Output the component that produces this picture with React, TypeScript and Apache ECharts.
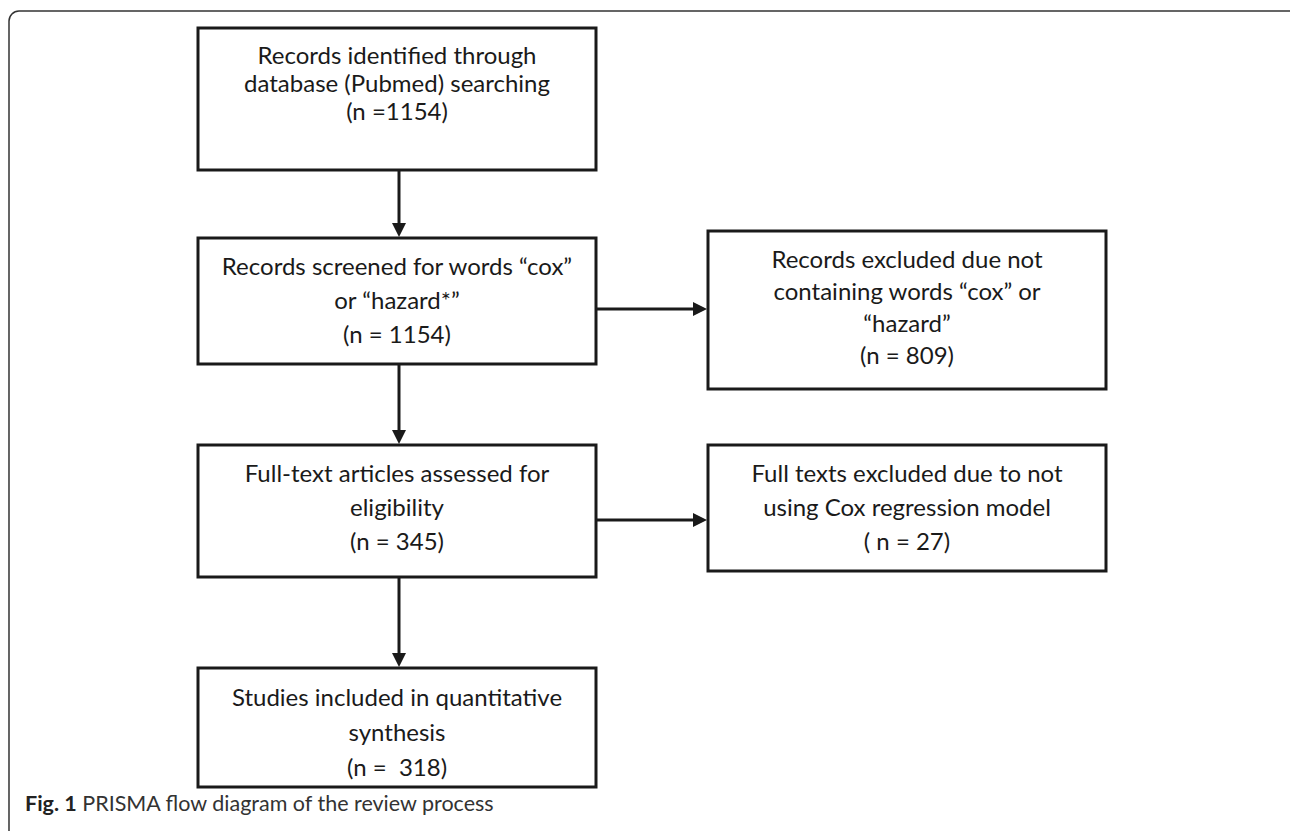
import React, { useEffect, useRef } from "react";
import * as echarts from "echarts";

// Flow-diagram content (data)
const boxLines: string[][] = [
  ["Records identified through", "database (Pubmed) searching", "(n =1154)"],
  ["Records screened for words \u201ccox\u201d", "or \u201chazard*\u201d", "(n = 1154)"],
  ["Records excluded due not", "containing words \u201ccox\u201d or", "\u201chazard\u201d", "(n = 809)"],
  ["Full-text articles assessed for", "eligibility", "(n = 345)"],
  ["Full texts excluded due to not", "using Cox regression model", "( n = 27)"],
  ["Studies included in quantitative", "synthesis", "(n =  318)"],
];
const captionBold = "Fig. 1";
const captionText = " PRISMA flow diagram of the review process";

// Layout (positions / sizes)
const boxRects = [
  { x: 198, y: 28, w: 398, h: 142, first: 26, gap: 28 },
  { x: 198, y: 238, w: 398, h: 126, first: 27, gap: 34 },
  { x: 708, y: 231, w: 398, h: 158, first: 27, gap: 32 },
  { x: 198, y: 445, w: 398, h: 132, first: 27, gap: 34 },
  { x: 708, y: 445, w: 398, h: 126, first: 27, gap: 34 },
  { x: 198, y: 668, w: 398, h: 119, first: 28, gap: 35 },
];

export default function App() {
  const ref = useRef<HTMLDivElement>(null);
  useEffect(() => {
    if (!ref.current) return;
    const chart = echarts.init(ref.current, undefined, { renderer: "svg" });
    const stroke = "#1a1a1a";
    const family = 'Lato, "Open Sans", sans-serif';
    const font = "24px " + family;
    const els: any[] = [];

    // outer frame
    els.push({
      type: "rect",
      shape: { x: 9, y: 11, width: 1320, height: 860, r: 10 },
      style: { fill: "none", stroke: "#333", lineWidth: 1.5 },
    });

    boxRects.forEach((b, i) => {
      els.push({
        type: "rect",
        shape: { x: b.x, y: b.y, width: b.w, height: b.h },
        style: { fill: "#fff", stroke, lineWidth: 3 },
      });
      boxLines[i].forEach((t, j) => {
        els.push({
          type: "text",
          x: b.x + b.w / 2,
          y: b.y + b.first + j * b.gap,
          style: {
            text: t,
            font,
            fill: "#1a1a1a",
            textAlign: "center",
            textVerticalAlign: "middle",
          },
        });
      });
    });

    const cx = 399;
    const vArrow = (y1: number, y2: number) => {
      els.push({
        type: "line",
        shape: { x1: cx, y1, x2: cx, y2: y2 - 12 },
        style: { stroke, lineWidth: 3 },
      });
      els.push({
        type: "polygon",
        shape: { points: [[cx - 7, y2 - 14], [cx + 7, y2 - 14], [cx, y2]] },
        style: { fill: stroke },
      });
    };
    const hArrow = (x1: number, x2: number, y: number) => {
      els.push({
        type: "line",
        shape: { x1, y1: y, x2: x2 - 12, y2: y },
        style: { stroke, lineWidth: 3 },
      });
      els.push({
        type: "polygon",
        shape: { points: [[x2 - 14, y - 7], [x2 - 14, y + 7], [x2, y]] },
        style: { fill: stroke },
      });
    };

    vArrow(boxRects[0].y + boxRects[0].h, boxRects[1].y - 1);
    vArrow(boxRects[1].y + boxRects[1].h, boxRects[3].y - 1);
    vArrow(boxRects[3].y + boxRects[3].h, boxRects[5].y - 1);
    hArrow(596, 707, 309);
    hArrow(596, 707, 520);

    els.push({
      type: "text",
      x: 25,
      y: 803,
      style: {
        text: "{b|" + captionBold + "}" + captionText,
        font: "21.5px " + family,
        fill: "#333",
        textVerticalAlign: "middle",
        rich: {
          b: { fontWeight: "bold", fontSize: 21.5, fontFamily: family, fill: "#222" },
        },
      },
    });

    chart.setOption({ animation: false, graphic: { elements: els } });
    return () => chart.dispose();
  }, []);
  return (
    <div
      ref={ref}
      style={{ position: "absolute", left: 0, top: 0, width: 1290, height: 831, background: "#fff" }}
    />
  );
}
